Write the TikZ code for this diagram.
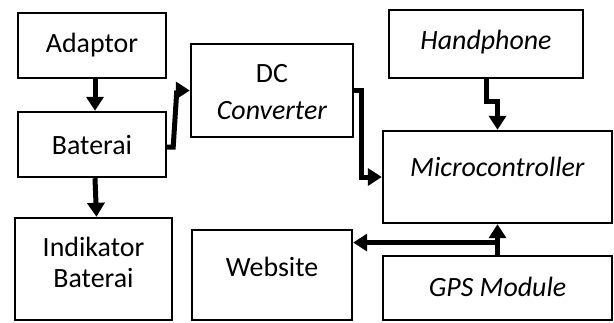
\documentclass[tikz,border=0pt]{standalone}
\usepackage{fontspec}
\setmainfont{Carlito}
\usetikzlibrary{arrows.meta,calc}
\tikzset{
  box/.style={draw, line width=2.4bp, inner sep=0pt, align=center},
  lbl/.style={inner sep=0pt, align=center, font=\fontsize{28}{31}\selectfont},
  conn/.style={line width=5bp, -{Triangle[length=14bp,width=17bp]}}
}
\begin{document}
\begin{tikzpicture}[x=1bp,y=-1bp]
\useasboundingbox (0,0) rectangle (614,322);
\node[box, minimum width=148bp, minimum height=65bp] (adaptor) at (92,45.5) {};
\node[box, minimum width=148bp, minimum height=65bp] (baterai) at (92,144.5) {};
\node[box, minimum width=157bp, minimum height=102bp] (indikator) at (93.5,269) {};
\node[box, minimum width=162bp, minimum height=93bp] (dc) at (272,90.5) {};
\node[box, minimum width=194bp, minimum height=68bp] (hp) at (486,44) {};
\node[box, minimum width=229bp, minimum height=92bp] (micro) at (497.5,177) {};
\node[box, minimum width=160bp, minimum height=90bp] (web) at (272,275) {};
\node[box, minimum width=229bp, minimum height=64bp] (gps) at (497.5,288) {};

\node[lbl] (tadaptor) at (92,45) {Adaptor};
\node[lbl] (tbaterai) at (92,145) {Baterai};
\node[lbl] (tindikator) at (93.5,262) {Indikator\\Baterai};
\node[lbl] (tdc) at (272,92) {DC\\[6bp]\textit{Converter}};
\node[lbl] (thp) at (486,42) {\textit{Handphone}};
\node[lbl] (tmicro) at (497.5,167) {\textit{Microcontroller}};
\node[lbl] (tweb) at (272,267) {Website};
\node[lbl] (tgps) at (497.5,287) {\textit{GPS Module}};

\draw[conn] ([xshift=3bp]adaptor.south) -- ([xshift=3bp]baterai.north);
\draw[conn] ([xshift=3bp]baterai.south) -- ([xshift=3bp]indikator.north);
\draw[conn] ([yshift=-2.5bp]baterai.east) -- ++(6,0) -- ($(dc.west)+(-13,0)$) -- (dc.west);
\draw[conn] (dc.east) -- ++(7,0) |- (micro.west);
\draw[conn] (hp.south) -- ++(0,22) -| (micro.north);
\draw[conn] (gps.north) -- (micro.south);
\coordinate (j) at ($(gps.north)!0.4!(micro.south)$);
\draw[conn] (j) -- (j -| web.east);
\end{tikzpicture}
\end{document}
